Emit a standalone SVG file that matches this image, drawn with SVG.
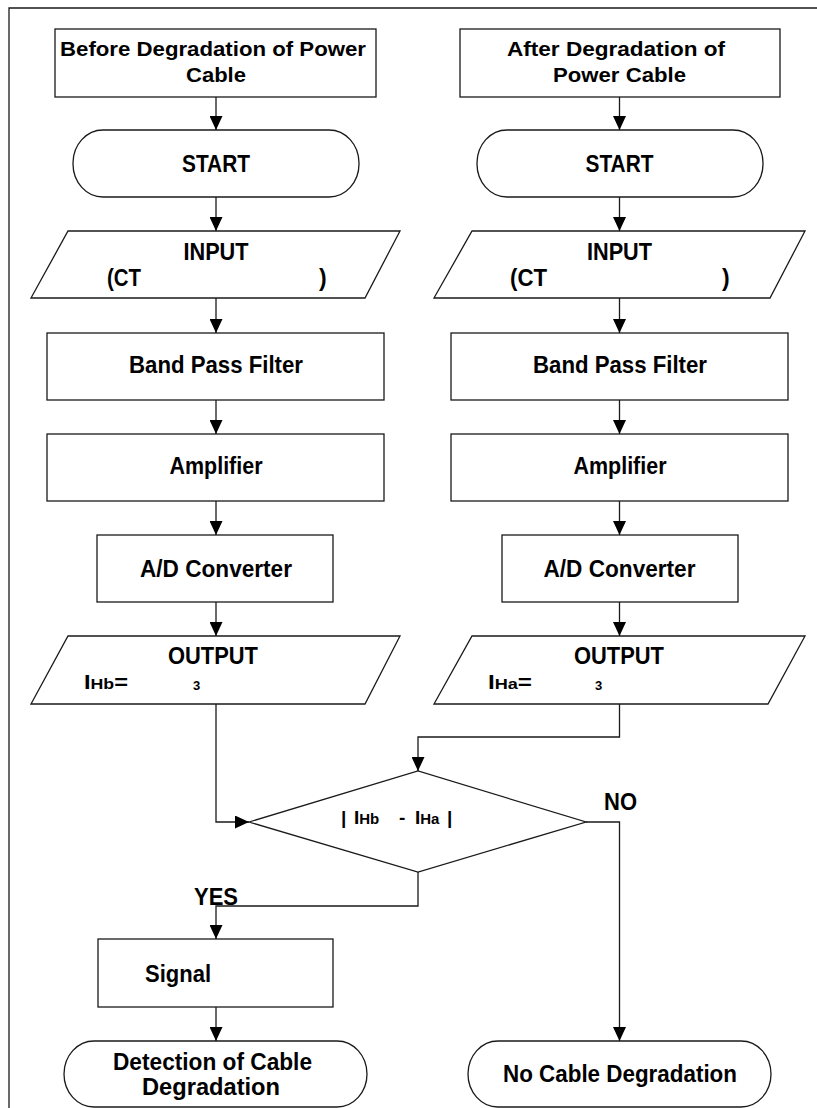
<svg xmlns="http://www.w3.org/2000/svg" width="817" height="1108" viewBox="0 0 817 1108">
<defs>
<style>
.s{fill:#fff;stroke:#1a1a1a;stroke-width:1.3}
.c{fill:none;stroke:#1a1a1a;stroke-width:1.3}
text{font-family:"Liberation Sans",Arial,sans-serif;font-weight:bold;fill:#000}
.m{font-size:23px;text-anchor:middle}
.t{font-size:21px;text-anchor:middle}
.l{font-size:23px}
</style>
<marker id="ah" markerUnits="userSpaceOnUse" markerWidth="14" markerHeight="13" refX="14" refY="6.5" orient="auto">
<path d="M0,0 L14,6.5 L0,13 z" fill="#000"/>
</marker>
</defs>
<rect width="817" height="1108" fill="#fff"/>
<path class="c" d="M9,1108 V8 H817"/>

<g id="title-before"><rect class="s" x="55" y="29" width="321" height="68"/>
<text class="t" x="213" y="56" textLength="306" lengthAdjust="spacingAndGlyphs">Before Degradation of Power</text>
<text class="t" x="216" y="82" textLength="60" lengthAdjust="spacingAndGlyphs">Cable</text></g>
<g id="title-after"><rect class="s" x="460" y="29" width="320" height="68"/>
<text class="t" x="616" y="56" textLength="218" lengthAdjust="spacingAndGlyphs">After Degradation of</text>
<text class="t" x="619.5" y="82" textLength="133" lengthAdjust="spacingAndGlyphs">Power Cable</text></g>

<g id="start-before"><rect class="s" x="73" y="130" width="286" height="67" rx="30" ry="33"/>
<text class="m" x="216" y="172" textLength="68" lengthAdjust="spacingAndGlyphs">START</text></g>
<g id="start-after"><rect class="s" x="477" y="130" width="286" height="67" rx="30" ry="33"/>
<text class="m" x="619.5" y="172" textLength="68" lengthAdjust="spacingAndGlyphs">START</text></g>

<g id="input-before"><path class="s" d="M68,231 H400 L365,298 H31 Z"/>
<text class="m" x="216" y="260" textLength="65" lengthAdjust="spacingAndGlyphs">INPUT</text>
<text class="l" x="107" y="286" textLength="34" lengthAdjust="spacingAndGlyphs">(CT</text><text class="l" x="319" y="286">)</text></g>
<g id="input-after"><path class="s" d="M472,231 H805 L770,298 H434 Z"/>
<text class="m" x="619.5" y="260" textLength="65" lengthAdjust="spacingAndGlyphs">INPUT</text>
<text class="l" x="510" y="286" textLength="37" lengthAdjust="spacingAndGlyphs">(CT</text><text class="l" x="722" y="286">)</text></g>

<g id="bpf-before"><rect class="s" x="47" y="333" width="337" height="67"/>
<text class="m" x="216" y="373" textLength="174" lengthAdjust="spacingAndGlyphs">Band Pass Filter</text></g>
<g id="bpf-after"><rect class="s" x="451" y="333" width="337" height="67"/>
<text class="m" x="620" y="373" textLength="174" lengthAdjust="spacingAndGlyphs">Band Pass Filter</text></g>

<g id="amp-before"><rect class="s" x="47" y="434" width="337" height="67"/>
<text class="m" x="216" y="474" textLength="93" lengthAdjust="spacingAndGlyphs">Amplifier</text></g>
<g id="amp-after"><rect class="s" x="451" y="434" width="337" height="67"/>
<text class="m" x="620" y="474" textLength="93" lengthAdjust="spacingAndGlyphs">Amplifier</text></g>

<g id="adc-before"><rect class="s" x="97" y="535" width="236" height="67"/>
<text class="m" x="216" y="577" textLength="152" lengthAdjust="spacingAndGlyphs">A/D Converter</text></g>
<g id="adc-after"><rect class="s" x="502" y="535" width="236" height="67"/>
<text class="m" x="619.5" y="577" textLength="152" lengthAdjust="spacingAndGlyphs">A/D Converter</text></g>

<g id="output-before"><path class="s" d="M68,636 H400 L365,704 H31 Z"/>
<text class="m" x="213" y="664" textLength="90" lengthAdjust="spacingAndGlyphs">OUTPUT</text>
<text x="84" y="689" textLength="44" lengthAdjust="spacingAndGlyphs"><tspan font-size="20">I</tspan><tspan font-size="15">Hb</tspan><tspan font-size="20">=</tspan></text>
<text x="193" y="690" font-size="13">3</text></g>
<g id="output-after"><path class="s" d="M472,636 H805 L768,704 H434 Z"/>
<text class="m" x="619" y="664" textLength="90" lengthAdjust="spacingAndGlyphs">OUTPUT</text>
<text x="488" y="689" textLength="44" lengthAdjust="spacingAndGlyphs"><tspan font-size="20">I</tspan><tspan font-size="15">Ha</tspan><tspan font-size="20">=</tspan></text>
<text x="595" y="690" font-size="13">3</text></g>

<g id="decision"><path class="s" d="M249,822 L418,771 L586,822 L418,872 Z"/>
<text y="824" font-size="19"><tspan x="341">|</tspan><tspan x="354">I</tspan><tspan font-size="15">Hb</tspan><tspan x="399">-</tspan><tspan x="415">I</tspan><tspan font-size="15">Ha</tspan><tspan x="447">|</tspan></text></g>

<g id="signal"><rect class="s" x="98" y="939" width="235" height="68"/>
<text class="l" x="145" y="982" textLength="66" lengthAdjust="spacingAndGlyphs">Signal</text></g>

<g id="end-detect"><rect class="s" x="64" y="1041" width="303" height="66" rx="30" ry="33"/>
<text class="m" x="212.5" y="1070" textLength="199" lengthAdjust="spacingAndGlyphs">Detection of Cable</text>
<text class="m" x="211" y="1095" textLength="138" lengthAdjust="spacingAndGlyphs">Degradation</text></g>
<g id="end-none"><rect class="s" x="468" y="1041" width="303" height="66" rx="30" ry="33"/>
<text class="m" x="620" y="1082" textLength="234" lengthAdjust="spacingAndGlyphs">No Cable Degradation</text></g>

<g id="labels">
<text class="l" x="604" y="810" textLength="33" lengthAdjust="spacingAndGlyphs">NO</text>
<text class="l" x="194" y="905" textLength="44" lengthAdjust="spacingAndGlyphs">YES</text>
</g>

<g id="connectors">
<path class="c" marker-end="url(#ah)" d="M216,97 V130"/>
<path class="c" marker-end="url(#ah)" d="M216,197 V231"/>
<path class="c" marker-end="url(#ah)" d="M216,298 V333"/>
<path class="c" marker-end="url(#ah)" d="M216,400 V434"/>
<path class="c" marker-end="url(#ah)" d="M216,501 V535"/>
<path class="c" marker-end="url(#ah)" d="M216,602 V636"/>
<path class="c" marker-end="url(#ah)" d="M216,704 V822 H249"/>
<path class="c" marker-end="url(#ah)" d="M619.5,97 V130"/>
<path class="c" marker-end="url(#ah)" d="M619.5,197 V231"/>
<path class="c" marker-end="url(#ah)" d="M619.5,298 V333"/>
<path class="c" marker-end="url(#ah)" d="M619.5,400 V434"/>
<path class="c" marker-end="url(#ah)" d="M619.5,501 V535"/>
<path class="c" marker-end="url(#ah)" d="M619.5,602 V636"/>
<path class="c" marker-end="url(#ah)" d="M619.5,704 V737 H418 V771"/>
<path class="c" marker-end="url(#ah)" d="M586,822 H619.5 V1041"/>
<path class="c" marker-end="url(#ah)" d="M418,872 V906 H216 V939"/>
<path class="c" marker-end="url(#ah)" d="M216,1007 V1041"/>
</g>
</svg>
